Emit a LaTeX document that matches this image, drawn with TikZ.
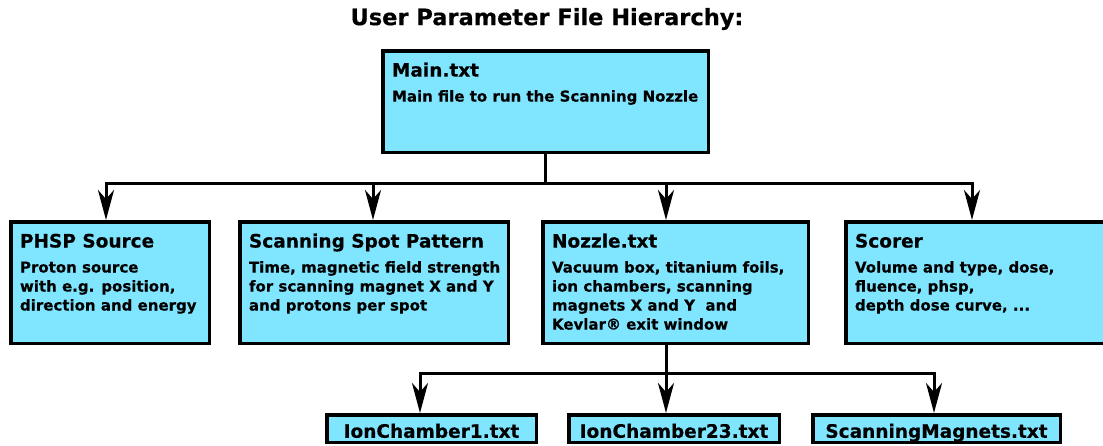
\documentclass[tikz,border=0pt]{standalone}
\usepackage{fontspec}
\setmainfont{DejaVu Sans}[BoldFeatures={FakeBold=0.4}]
\usetikzlibrary{arrows.meta,positioning}

\definecolor{boxcyan}{RGB}{128,229,255}

% heading line inside a file box
\newcommand{\headline}[1]{{\fontsize{18.5}{22}\selectfont\rule{0pt}{14pt}#1}}

\begin{document}
\begin{tikzpicture}[
    x = 1pt, y = -1pt, % pixel grid, y grows downwards
    > = {Stealth[length=30pt, width=16pt, inset=9pt]}, % arrow head style
    line width = 3pt,
    font = \bfseries
    ]

    \tikzset{
    filebox/.style = {draw = black, line width = 3.5pt, fill = boxcyan,
        anchor = north west, inner sep = 0pt},
    filetext/.style = {anchor = north west, align = left, outer sep = 0pt,
        inner xsep = 11pt, inner ysep = 13.5pt,
        font = \bfseries\fontsize{15}{19}\selectfont},
    subfile/.style = {filebox, minimum height = 27.5pt,
        text height = 18.5pt, text depth = 0pt,
        font = \bfseries\fontsize{18.5}{20}\selectfont}
    }

    \useasboundingbox (0,0) rectangle (1103,445);

    \node[font=\bfseries\fontsize{22.5}{27}\selectfont] (title) at (547,19)
        {User Parameter File Hierarchy:};

    % file boxes
    \node[filebox, minimum width=325.5pt, minimum height=101.5pt] (main) at (381,49) {};
    \node[filebox, minimum width=198.5pt, minimum height=121.5pt] (phsp) at (9,220) {};
    \node[filebox, minimum width=268.5pt, minimum height=121.5pt] (spot) at (238,220) {};
    \node[filebox, minimum width=265.5pt, minimum height=121.5pt] (nozzle) at (541,220) {};
    \node[filebox, minimum width=272.5pt, minimum height=121.5pt] (scorer) at (844,220) {};

    \node[subfile, minimum width=209.5pt] (ion1) at (325,413) {IonChamber1.txt};
    \node[subfile, minimum width=210.5pt] (ion23) at (567,413) {IonChamber23.txt};
    \node[subfile, minimum width=247.5pt] (magnets) at (811,413) {ScanningMagnets.txt};

    % box texts
    \node[filetext] (maintext) at (main.north west)
        {\headline{Main.txt}\\[6pt] Main file to run the Scanning Nozzle};
    \node[filetext] (phsptext) at (phsp.north west)
        {\headline{PHSP Source}\\[6pt] Proton source\\ with e.g. position,\\ direction and energy};
    \node[filetext] (spottext) at (spot.north west)
        {\headline{Scanning Spot Pattern}\\[6pt] Time, magnetic field strength\\ for scanning magnet X and Y\\ and protons per spot};
    \node[filetext] (nozzletext) at (nozzle.north west)
        {\headline{Nozzle.txt}\\[6pt] Vacuum box, titanium foils,\\ ion chambers, scanning\\ magnets X and Y~ and\\ Kevlar® exit window};
    \node[filetext] (scorertext) at (scorer.north west)
        {\headline{Scorer}\\[6pt] Volume and type, dose,\\ fluence, phsp,\\ depth dose curve, ...};

    % drop points on the bars
    \coordinate (dropA) at (106,183);
    \coordinate (dropB) at (373,183);
    \coordinate (dropC) at (666,183);
    \coordinate (dropD) at (972,183);
    \coordinate (subA) at (420,373);
    \coordinate (subB) at (666,373);
    \coordinate (subC) at (934,373);

    \foreach \target/\drop in {phsp/dropA, spot/dropB, nozzle/dropC, scorer/dropD}
        \draw[->] (main.south) |- (\drop) -- (\drop |- \target.north);

    \foreach \target/\drop in {ion1/subA, ion23/subB, magnets/subC}
        \draw[->] (nozzle.south -| subB) |- (\drop) -- (\drop |- \target.north);
\end{tikzpicture}
\end{document}
